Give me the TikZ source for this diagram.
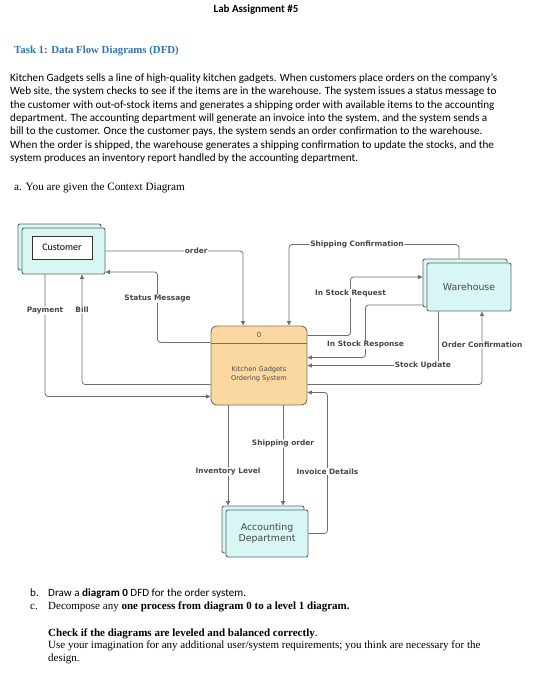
\documentclass[tikz,border=0pt]{standalone}
\usepackage{fontspec}
\setmainfont{Carlito}
\newfontfamily\timesrm{Liberation Serif}
\newfontfamily\chartfont{DejaVu Sans}
\usetikzlibrary{arrows.meta, calc, shadows}
\definecolor{headblue}{HTML}{2E74B5}
\definecolor{entityfill}{HTML}{D8F6F3}
\definecolor{procfill}{HTML}{FBD8A2}
\definecolor{procline}{HTML}{7F705E}
\definecolor{boxline}{HTML}{5E6868}
\definecolor{flowgray}{HTML}{6E6E6E}
\definecolor{labelgray}{HTML}{474747}

\begin{document}
\begin{tikzpicture}[x=1pt, y=-1pt,
  entitybox/.style={draw=boxline, fill=entityfill, line width=0.9pt, rounded corners=2pt,
    copy shadow={shadow xshift=-4pt, shadow yshift=4pt},
    font=\chartfont\fontsize{9.4}{10.5}\selectfont, text=labelgray, align=center, inner sep=0pt},
  procbox/.style={draw=procline, fill=procfill, line width=0.9pt, rounded corners=6pt, inner sep=0pt},
  flow/.style={draw=flowgray, line width=0.8pt, rounded corners=3pt, -{Triangle[length=4.5pt, width=4pt]}},
  lbl/.style={fill=white, inner sep=0.6pt, text=labelgray, font=\chartfont\bfseries\fontsize{7.4}{8}\selectfont},
  serifline/.style={anchor=base west, inner sep=0pt, font=\timesrm\fontsize{11}{13}\selectfont},
]
\useasboundingbox (0,0) rectangle (546,700);

% page text
\node[font=\bfseries\fontsize{10.9}{12}\selectfont] (title) at (256,10) {Lab Assignment \#5};
\node[serifline, text=headblue, font=\timesrm\bfseries\fontsize{10.8}{13}\selectfont] (task) at (14,54) {Task 1: Data Flow Diagrams (DFD)};
\node[anchor=north west, align=left, inner sep=0pt, font=\fontsize{11.15}{13.3}\selectfont] (story) at (10,73.5) {%
Kitchen Gadgets sells a line of high-quality kitchen gadgets. When customers place orders on the company’s\\
Web site, the system checks to see if the items are in the warehouse. The system issues a status message to\\
the customer with out-of-stock items and generates a shipping order with available items to the accounting\\
department. The accounting department will generate an invoice into the system, and the system sends a\\
bill to the customer. Once the customer pays, the system sends an order confirmation to the warehouse.\\
When the order is shipped, the warehouse generates a shipping confirmation to update the stocks, and the\\
system produces an inventory report handled by the accounting department.};
\node[serifline, font=\timesrm\fontsize{11.2}{13}\selectfont] (parta) at (14,190.5) {a. You are given the Context Diagram};

% context diagram
\node[entitybox, minimum width=83pt, minimum height=46pt] (customer) at (63.5,251) {};
\node[draw=black!80, fill=white, line width=0.7pt, minimum width=60pt, minimum height=23pt,
  font=\fontsize{10}{12}\selectfont] (custname) at (62,247.5) {Customer};
\node[entitybox, minimum width=84pt, minimum height=48pt] (warehouse) at (469,287) {Warehouse};
\node[entitybox, minimum width=82pt, minimum height=47pt] (accounting) at (267,533.5) {Accounting\\Department};
\node[procbox, minimum width=96pt, minimum height=79pt] (process) at (259,365.5) {};
\draw[procline, line width=0.9pt] ($(process.north west)+(0,18)$) -- ($(process.north east)+(0,18)$);
\node[font=\chartfont\fontsize{7}{8}\selectfont, text=labelgray] (procid) at (259,335) {0};
\node[align=center, text=labelgray, font=\chartfont\fontsize{6.6}{9}\selectfont] (procname) at (259,374) {Kitchen Gadgets\\Ordering System};

\draw[flow] (customer.east) -| ($(process.north)+(-16,0)$)
  node[lbl, pos=0.33] (lblorder) {order};
\draw[flow] ($(process.north west)+(0,17)$) -- ++(-53,0) |- ($(customer.east)+(0,21)$)
  node[lbl, pos=0.31] (lblstatus) {Status Message};
\draw[flow] ($(process.south west)+(0,-21)$) -| ($(customer.south)+(18.5,0)$)
  node[lbl, pos=0.84] (lblbill) {Bill};
\draw[flow] ($(customer.south)+(-18.5,0)$) |- ($(process.south west)+(0,-9)$)
  node[lbl, pos=0.15] (lblpay) {Payment};
\draw[flow] ($(warehouse.north)+(-10,-4)$) -- ++(0,-14) -| ($(process.north)+(30,0)$)
  node[lbl, pos=0.3] (lblshipconf) {Shipping Confirmation};
\draw[flow] ($(process.north east)+(0,10)$) -- ++(43,0) |- ($(warehouse.west)+(-4,-10)$)
  node[lbl, pos=0.36] (lblreq) {In Stock Request};
\draw[flow] ($(warehouse.west)+(-4,18)$) -- ++(-57,0) |- ($(process.north east)+(0,32)$)
  node[lbl, pos=0.38] (lblresp) {In Stock Response};
\draw[flow] ($(warehouse.south west)+(12,0)$) |- ($(process.north east)+(0,40)$)
  node[lbl, pos=0.56] (lblupdate) {Stock Update};
\draw[flow] ($(process.south east)+(0,-21)$) -| ($(warehouse.south)+(13,0)$)
  node[lbl, pos=0.77] (lblordconf) {Order Confirmation};
\draw[flow] (accounting.east) -- ++(19,0) |- ($(process.south east)+(0,-13)$)
  node[lbl, pos=0.22] (lblinvoice) {Invoice Details};
\draw[flow] ($(process.south)+(-31,0)$) -- ($(accounting.north)+(-39,-4)$)
  node[lbl, pos=0.66] (lblinv) {Inventory Level};
\draw[flow] ($(process.south)+(24,0)$) -- ($(accounting.north)+(16,-4)$)
  node[lbl, pos=0.38] (lblshiporder) {Shipping order};

% tasks
\node[anchor=base west, inner sep=0pt, font=\fontsize{11.1}{12.5}\selectfont] (partb) at (30,596.5)
  {\makebox[18pt][l]{b.}Draw a \textbf{diagram 0} DFD for the order system.};
\node[serifline] (partc) at (30,609.5)
  {\makebox[18pt][l]{c.}Decompose any \textbf{one process from diagram 0 to a level 1 diagram.}};
\node[serifline] (check) at (48,636.5) {\textbf{Check if the diagrams are leveled and balanced correctly}.};
\node[anchor=north west, align=left, inner sep=0pt, font=\timesrm\fontsize{11}{13}\selectfont] (note) at (48,641)
  {Use your imagination for any additional user/system requirements; you think are necessary for the\\design.};
\end{tikzpicture}
\end{document}
